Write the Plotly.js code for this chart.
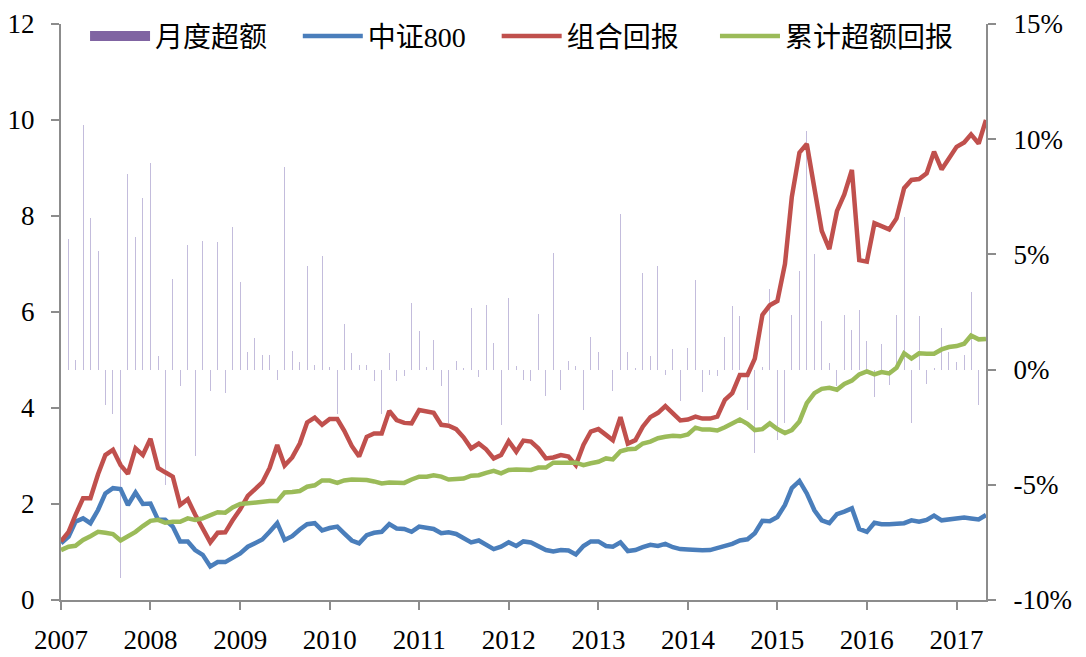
<!DOCTYPE html>
<html><head><meta charset="utf-8">
<script src="https://cdn.plot.ly/plotly-3.0.1.min.js"></script>
<style>html,body{margin:0;padding:0;background:#fff}#chart{width:1086px;height:657px}</style>
</head><body><div id="chart"></div>
<script>
// monthly data, 2007-01 .. 2017-05
const startYear = 2007, nMonths = 125;
const months = [];
for (let i = 0; i < nMonths; i++) {
  const y = startYear + Math.floor(i / 12), m = (i % 12) + 1;
  months.push(y + '-' + (m < 10 ? '0' + m : m) + '-01');
}
const yearTicks = ['2007-01-01','2008-01-01','2009-01-01','2010-01-01','2011-01-01','2012-01-01','2013-01-01','2014-01-01','2015-01-01','2016-01-01','2017-01-01'];
const yearLabels = ['2007','2008','2009','2010','2011','2012','2013','2014','2015','2016','2017'];
const pctTicks = [-10,-5,0,5,10,15];
const pctLabels = ['-10%','-5%','0%','5%','10%','15%'];

const monthlyExcess = [0,
 5.67,0.43,10.6,6.57,5.16,-1.55,-1.92,-9.04,8.49,5.76,7.45,8.98,0.61,-5.03,3.94,-0.72,5.40,-3.76,5.58,-0.94,
 5.53,-1.01,6.18,3.79,0.75,1.37,0.65,0.65,-0.43,8.78,0.81,0.35,4.51,0.2,4.95,0.1,-1.91,1.98,0.71,0.22,0.22,
 -0.51,-1.91,0.72,-0.51,-0.29,2.89,1.66,0.1,1.27,-0.69,-2.31,0.39,0.05,2.68,-0.33,2.79,1.16,-2.42,3.10,0.17,-0.46,
 -0.51,2.42,-1.13,5.06,-0.9,0.36,0.14,-1.74,1.42,0.77,2.56,-0.94,6.76,0.77,0.05,4.18,0.61,4.48,-0.25,0.9,
 -1.35,0.94,3.88,-0.98,-0.25,-0.29,1.40,2.75,2.34,-1.74,-3.62,0.1,3.5,-3.04,-2.31,2.39,4.27,10.34,5.03,2.10,0.29,
 -0.69,2.39,1.74,2.60,1.26,-1.2,1.09,-0.67,2.36,6.63,-2.31,2.34,-0.62,0.07,1.81,0.77,0.33,0.65,3.36,-1.52,0];

const csi800 = [
 1.18,1.32,1.63,1.70,1.60,1.875,2.22,2.33,2.31,1.98,
 2.24,2.00,2.01,1.67,1.67,1.53,1.22,1.22,1.04,0.94,
 0.70,0.79,0.79,0.88,0.97,1.11,1.18,1.26,1.42,1.60,
 1.25,1.33,1.47,1.58,1.60,1.45,1.50,1.53,1.39,1.24,
 1.18,1.35,1.40,1.42,1.58,1.49,1.48,1.42,1.53,1.51,
 1.48,1.39,1.41,1.375,1.28,1.20,1.24,1.15,1.06,1.11,
 1.20,1.125,1.22,1.20,1.125,1.04,1.01,1.04,1.03,0.95,
 1.125,1.22,1.22,1.125,1.11,1.20,1.02,1.04,1.10,1.15,
 1.125,1.17,1.10,1.06,1.05,1.035,1.035,1.04,1.08,1.14,
 1.17,1.24,1.265,1.39,1.65,1.64,1.73,1.98,2.33,2.48,
 2.22,1.87,1.66,1.60,1.79,1.84,1.91,1.48,1.42,1.61,
 1.58,1.58,1.58,1.60,1.66,1.63,1.67,1.76,1.66,1.68,
 1.72,1.72,1.70,1.68,1.77];

const portfolio = [
 1.22,1.42,1.77,2.12,2.12,2.62,3.02,3.13,2.81,2.63,
 3.16,3.02,3.36,2.75,2.66,2.57,1.98,2.10,1.78,1.49,
 1.20,1.40,1.41,1.66,1.89,2.17,2.31,2.45,2.75,3.23,
 2.80,2.97,3.26,3.70,3.80,3.65,3.77,3.77,3.53,3.21,
 2.99,3.40,3.47,3.47,3.94,3.75,3.69,3.68,3.96,3.94,
 3.90,3.65,3.63,3.56,3.39,3.16,3.26,3.14,2.95,3.02,
 3.31,3.09,3.32,3.30,3.16,2.95,2.97,3.02,2.99,2.81,
 3.23,3.51,3.56,3.44,3.33,3.81,3.26,3.33,3.61,3.81,
 3.90,4.04,3.90,3.74,3.76,3.82,3.78,3.78,3.82,4.17,
 4.31,4.69,4.69,5.03,5.94,6.14,6.23,7.0,8.40,9.32,
 9.50,8.61,7.69,7.31,8.10,8.45,8.96,7.08,7.05,7.85,
 7.78,7.72,7.95,8.58,8.75,8.77,8.89,9.34,8.97,9.19,
 9.44,9.53,9.70,9.51,10.0];

const cumExcess = [
 1.04,1.11,1.13,1.25,1.33,1.42,1.40,1.375,1.24,1.33,
 1.42,1.54,1.65,1.67,1.61,1.63,1.63,1.70,1.67,1.70,
 1.76,1.83,1.82,1.93,2.0,2.02,2.04,2.05,2.06,2.06,
 2.24,2.25,2.27,2.36,2.39,2.49,2.49,2.44,2.49,2.51,
 2.51,2.50,2.47,2.43,2.45,2.45,2.44,2.51,2.57,2.57,
 2.60,2.57,2.51,2.52,2.53,2.59,2.60,2.65,2.69,2.64,
 2.71,2.72,2.71,2.71,2.76,2.76,2.86,2.87,2.86,2.86,
 2.81,2.85,2.88,2.95,2.93,3.10,3.14,3.15,3.26,3.30,
 3.37,3.40,3.42,3.41,3.45,3.59,3.55,3.55,3.53,3.60,
 3.68,3.76,3.67,3.54,3.56,3.68,3.56,3.48,3.54,3.72,
 4.10,4.31,4.40,4.42,4.38,4.50,4.57,4.70,4.76,4.70,
 4.75,4.72,4.84,5.14,5.03,5.14,5.13,5.13,5.22,5.27,
 5.29,5.34,5.51,5.43,5.44];

const serif = "'Liberation Serif', 'DejaVu Serif', serif";
const legendFont = "'Liberation Serif', 'Noto Sans CJK SC', serif";
const axisColor = '#8c8c8c';
const barWidthMs = 4 * 24 * 3600 * 1000;

const traces = [
  {type:'bar', x: months, y: monthlyExcess, yaxis:'y', xaxis:'x', showlegend:false,
   width: months.map(() => barWidthMs), marker:{color:'#c3bcdc', line:{width:0}}, hoverinfo:'skip'},
  {type:'scatter', mode:'lines', x:[null], y:[null], yaxis:'y', name:'月度超额', legend:'legend',
   line:{color:'#8064A2', width:10}},
  {type:'scatter', mode:'lines', x: months, y: csi800, yaxis:'y2', name:'中证800', legend:'legend2',
   line:{color:'#4A7EBB', width:4.5}},
  {type:'scatter', mode:'lines', x: months, y: portfolio, yaxis:'y2', name:'组合回报', legend:'legend3',
   line:{color:'#C0504D', width:4.5}},
  {type:'scatter', mode:'lines', x: months, y: cumExcess, yaxis:'y2', name:'累计超额回报', legend:'legend4',
   line:{color:'#9BBB59', width:4.5}}
];

function legendAt(xFrac) {
  return {orientation:'h', x:xFrac, xanchor:'left', y:1.022, yanchor:'top',
          font:{family:legendFont, size:28, color:'#000'}, itemwidth:60,
          bgcolor:'rgba(0,0,0,0)'};
}

const layout = {
  width:1086, height:657,
  margin:{l:61, r:100, t:24, b:57, pad:0, autoexpand:false},
  paper_bgcolor:'#fff', plot_bgcolor:'#fff',
  barmode:'overlay', bargap:0,
  showlegend:true,
  legend: legendAt(0.026),
  legend2: legendAt(0.256),
  legend3: legendAt(0.471),
  legend4: legendAt(0.707),
  xaxis:{type:'date', range:[months[0], months[nMonths-1]], tickvals:yearTicks, ticktext:yearLabels,
         showgrid:false, zeroline:false, showline:true, linecolor:axisColor, linewidth:2,
         ticks:'outside', ticklen:8, tickwidth:2, tickcolor:axisColor, ticklabelstandoff:7,
         tickfont:{family:serif, size:27, color:'#000'}},
  yaxis:{side:'right', range:[-10,15], tickvals:pctTicks, ticktext:pctLabels,
         showgrid:false, zeroline:false, showline:true, linecolor:axisColor, linewidth:2,
         ticks:'outside', ticklen:8, tickwidth:2, tickcolor:axisColor, ticklabelstandoff:12,
         tickfont:{family:serif, size:27, color:'#000'}},
  yaxis2:{side:'left', overlaying:'y', range:[0,12], dtick:2, tick0:0,
         showgrid:false, zeroline:false, showline:true, linecolor:axisColor, linewidth:2,
         ticks:'outside', ticklen:8, tickwidth:2, tickcolor:axisColor, ticklabelstandoff:11,
         tickfont:{family:serif, size:27, color:'#000'}}
};

Plotly.newPlot('chart', traces, layout, {displayModeBar:false, staticPlot:true});
</script></body></html>
